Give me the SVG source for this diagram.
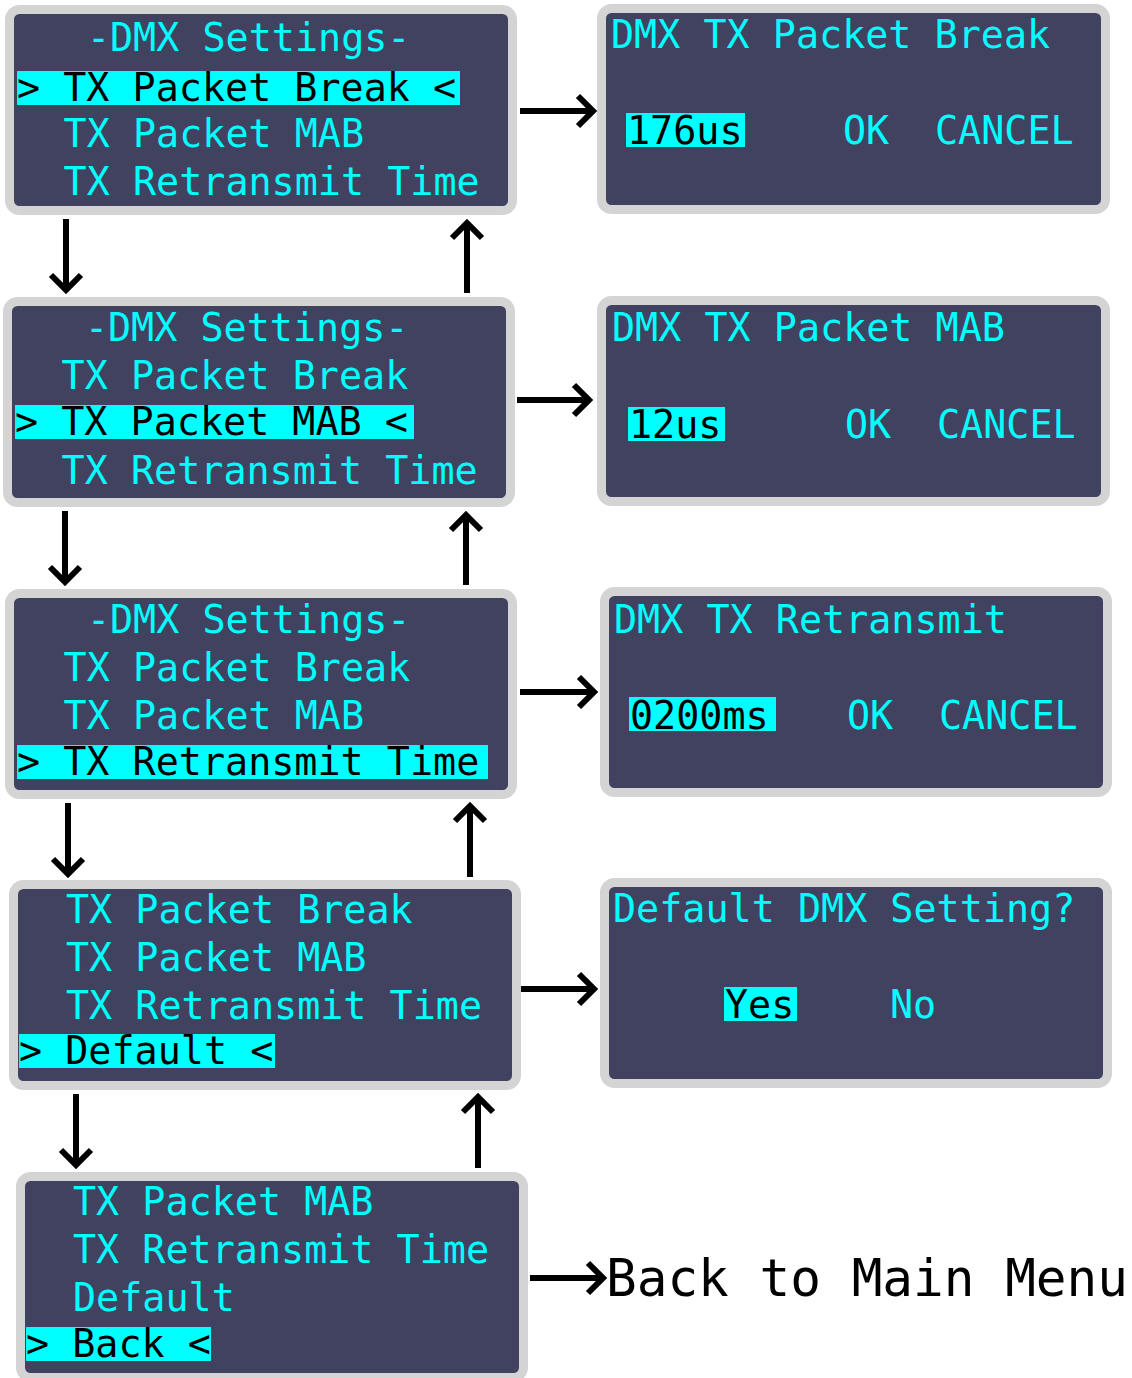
<svg xmlns="http://www.w3.org/2000/svg" width="1132" height="1378" viewBox="0 0 1132 1378">
<style>
.panel{fill:#414160;stroke:#d4d4d4;stroke-width:9}
.t{font-family:"DejaVu Sans Mono","Liberation Mono",monospace;font-size:38.4px;fill:#00ffff}
.s{font-family:"DejaVu Sans Mono","Liberation Mono",monospace;font-size:38.4px;fill:#000}
.hl{fill:#00ffff}
.c{fill:none;stroke:#000;stroke-width:6}
.lbl{font-family:"DejaVu Sans Mono","Liberation Mono",monospace;font-size:51px;fill:#000}
</style>
<defs>
<marker id="ah" viewBox="-22 -20 28 40" markerWidth="28" markerHeight="40" refX="0" refY="0" orient="auto" markerUnits="userSpaceOnUse">
<path d="M-15,-15 L0,0 L-15,15" fill="none" stroke="#000" stroke-width="6"/>
</marker>
</defs>
<rect width="1132" height="1378" fill="#fff"/>

<g id="menu1">
<rect class="panel" x="9.5" y="9.5" width="503" height="201" rx="10"/>
<text class="t" x="86.9" y="51">-DMX Settings-</text>
<rect class="hl" x="17" y="71" width="443" height="34"/>
<text class="s" x="17" y="101">&gt; TX Packet Break &lt;</text>
<text class="t" x="63.6" y="147">TX Packet MAB</text>
<text class="t" x="63.6" y="195">TX Retransmit Time</text>
</g>

<g id="menu2">
<rect class="panel" x="7.5" y="301.5" width="503" height="201" rx="10"/>
<text class="t" x="84.9" y="341">-DMX Settings-</text>
<text class="t" x="61.6" y="389">TX Packet Break</text>
<rect class="hl" x="15" y="405" width="399" height="34"/>
<text class="s" x="15" y="435">&gt; TX Packet MAB &lt;</text>
<text class="t" x="61.6" y="484">TX Retransmit Time</text>
</g>

<g id="menu3">
<rect class="panel" x="9.5" y="593.5" width="503" height="201" rx="10"/>
<text class="t" x="86.9" y="633">-DMX Settings-</text>
<text class="t" x="63.6" y="681">TX Packet Break</text>
<text class="t" x="63.6" y="729">TX Packet MAB</text>
<rect class="hl" x="17" y="745" width="471" height="34"/>
<text class="s" x="17" y="775">&gt; TX Retransmit Time</text>
</g>

<g id="menu4">
<rect class="panel" x="13.5" y="884.5" width="503" height="201" rx="10"/>
<text class="t" x="66" y="923">TX Packet Break</text>
<text class="t" x="66" y="971">TX Packet MAB</text>
<text class="t" x="66" y="1019">TX Retransmit Time</text>
<rect class="hl" x="19" y="1034" width="256" height="34"/>
<text class="s" x="19" y="1064">&gt; Default &lt;</text>
</g>

<g id="menu5">
<rect class="panel" x="20.5" y="1176.5" width="503" height="201" rx="10"/>
<text class="t" x="73" y="1215">TX Packet MAB</text>
<text class="t" x="73" y="1263">TX Retransmit Time</text>
<text class="t" x="73" y="1311">Default</text>
<rect class="hl" x="26" y="1327" width="185" height="34"/>
<text class="s" x="26" y="1357">&gt; Back &lt;</text>
</g>

<g id="edit1">
<rect class="panel" x="601.5" y="8.5" width="504" height="201" rx="10"/>
<text class="t" x="611" y="48">DMX TX Packet Break</text>
<rect class="hl" x="626" y="113" width="119" height="34"/>
<text class="s" x="627" y="144">176us</text>
<text class="t" x="843" y="144">OK</text>
<text class="t" x="935" y="144">CANCEL</text>
</g>

<g id="edit2">
<rect class="panel" x="601.5" y="300.5" width="504" height="201" rx="10"/>
<text class="t" x="612" y="341">DMX TX Packet MAB</text>
<rect class="hl" x="628" y="407" width="97" height="34"/>
<text class="s" x="629" y="438">12us</text>
<text class="t" x="845" y="438">OK</text>
<text class="t" x="937" y="438">CANCEL</text>
</g>

<g id="edit3">
<rect class="panel" x="604.5" y="591.5" width="503" height="201" rx="10"/>
<text class="t" x="614" y="633">DMX TX Retransmit</text>
<rect class="hl" x="629" y="697" width="147" height="34"/>
<text class="s" x="630" y="729">0200ms</text>
<text class="t" x="847" y="729">OK</text>
<text class="t" x="939" y="729">CANCEL</text>
</g>

<g id="default">
<rect class="panel" x="604.5" y="882.5" width="503" height="201" rx="10"/>
<text class="t" x="613" y="922">Default DMX Setting?</text>
<rect class="hl" x="724" y="987" width="73" height="34"/>
<text class="s" x="725" y="1018">Yes</text>
<text class="t" x="890" y="1018">No</text>
</g>

<g id="back">
<text class="lbl" x="606" y="1296">Back to Main Menu</text>
</g>

<g id="connectors">
<line class="c" x1="66" y1="219" x2="66" y2="290" marker-end="url(#ah)"/>
<line class="c" x1="467" y1="293" x2="467" y2="223" marker-end="url(#ah)"/>
<line class="c" x1="65" y1="511" x2="65" y2="582" marker-end="url(#ah)"/>
<line class="c" x1="466" y1="585" x2="466" y2="515" marker-end="url(#ah)"/>
<line class="c" x1="68" y1="803" x2="68" y2="874" marker-end="url(#ah)"/>
<line class="c" x1="470" y1="877" x2="470" y2="806" marker-end="url(#ah)"/>
<line class="c" x1="76" y1="1094" x2="76" y2="1165" marker-end="url(#ah)"/>
<line class="c" x1="478" y1="1168" x2="478" y2="1097" marker-end="url(#ah)"/>
<line class="c" x1="520" y1="111" x2="593" y2="111" marker-end="url(#ah)"/>
<line class="c" x1="517" y1="400" x2="589" y2="400" marker-end="url(#ah)"/>
<line class="c" x1="520" y1="692" x2="594" y2="692" marker-end="url(#ah)"/>
<line class="c" x1="521" y1="989" x2="594" y2="989" marker-end="url(#ah)"/>
<line class="c" x1="530" y1="1278" x2="603" y2="1278" marker-end="url(#ah)"/>
</g>
</svg>
